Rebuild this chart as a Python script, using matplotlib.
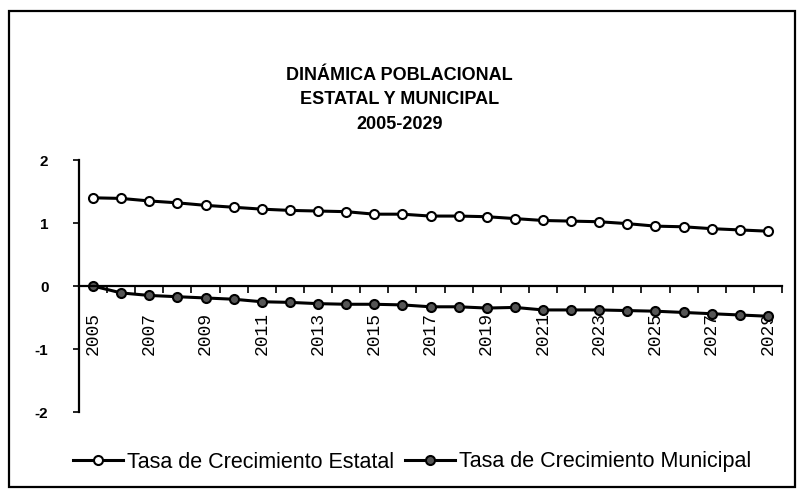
import matplotlib
matplotlib.use("Agg")
import matplotlib.pyplot as plt
from matplotlib.patches import Rectangle
from matplotlib.ticker import FixedLocator, NullFormatter

# data
years = list(range(2005, 2030))
estatal = [1.40, 1.39, 1.35, 1.32, 1.28, 1.25, 1.22, 1.20, 1.19, 1.18, 1.14, 1.14,
           1.11, 1.11, 1.10, 1.07, 1.04, 1.03, 1.02, 0.99, 0.95, 0.94, 0.91, 0.89, 0.87]
municipal = [0.00, -0.11, -0.15, -0.17, -0.19, -0.21, -0.25, -0.26, -0.28, -0.29, -0.29, -0.30,
             -0.33, -0.33, -0.35, -0.34, -0.38, -0.38, -0.38, -0.39, -0.40, -0.42, -0.44, -0.46, -0.48]
yticks = [2, 1, 0, -1, -2]

fig = plt.figure(figsize=(7.99, 4.95), dpi=100)
fig.patches.append(Rectangle((9 / 799, 8 / 495), 786 / 799, 476 / 495, transform=fig.transFigure,
                             fill=False, edgecolor="black", linewidth=1.6))

ax = fig.add_axes([79 / 799, 1 - 412 / 495, (782 - 79) / 799, (412 - 160) / 495])
x = list(range(len(years)))

ax.plot(x, estatal, color="black", lw=2.2, marker="o", ms=6.5, mfc="white", mec="black", mew=1.5,
        label="Tasa de Crecimiento Estatal")
ax.plot(x, municipal, color="black", lw=2.2, marker="o", ms=6.5, mfc="#555555", mec="black", mew=1.5,
        label="Tasa de Crecimiento Municipal")

ax.set_xlim(-0.5, len(years) - 0.5)
ax.set_ylim(-2, 2)
ax.set_yticks(yticks)
ax.set_yticklabels([str(v) for v in yticks], fontsize=11, fontweight="bold", family="Liberation Sans")
ax.tick_params(axis="y", direction="out", length=4, width=1.2, pad=18)

for s in ["top", "right"]:
    ax.spines[s].set_visible(False)
ax.spines["left"].set_linewidth(1.6)
ax.spines["bottom"].set_position(("data", 0))
ax.spines["bottom"].set_linewidth(1.6)

# ticks on category boundaries, labels every second year
ax.xaxis.set_major_locator(FixedLocator([i - 0.5 for i in range(len(years) + 1)]))
ax.xaxis.set_major_formatter(NullFormatter())
ax.tick_params(axis="x", which="major", direction="out", length=5, width=1.2)
ax.set_xticks(x[::2], minor=True)
ax.set_xticklabels([str(y) for y in years[::2]], minor=True, rotation=90,
                   fontsize=13, family="Liberation Mono", va="top")
ax.tick_params(axis="x", which="minor", length=0, pad=19)

title_font = dict(ha="center", va="center", fontsize=13, fontweight="bold", family="Liberation Sans")
fig.text(0.5, 1 - 75 / 495, "DINÁMICA POBLACIONAL", **title_font)
fig.text(0.5, 1 - 100 / 495, "ESTATAL Y MUNICIPAL", **title_font)
fig.text(0.5, 1 - 124 / 495, "2005-2029", **title_font)

fig.legend(loc="center", bbox_to_anchor=(0.516, 1 - 462 / 495), ncol=2, frameon=False,
           prop={"family": "Liberation Sans", "size": 15.5}, handlelength=2.3, handletextpad=0.2,
           columnspacing=0.5)

fig.savefig("out.png", dpi=100)
